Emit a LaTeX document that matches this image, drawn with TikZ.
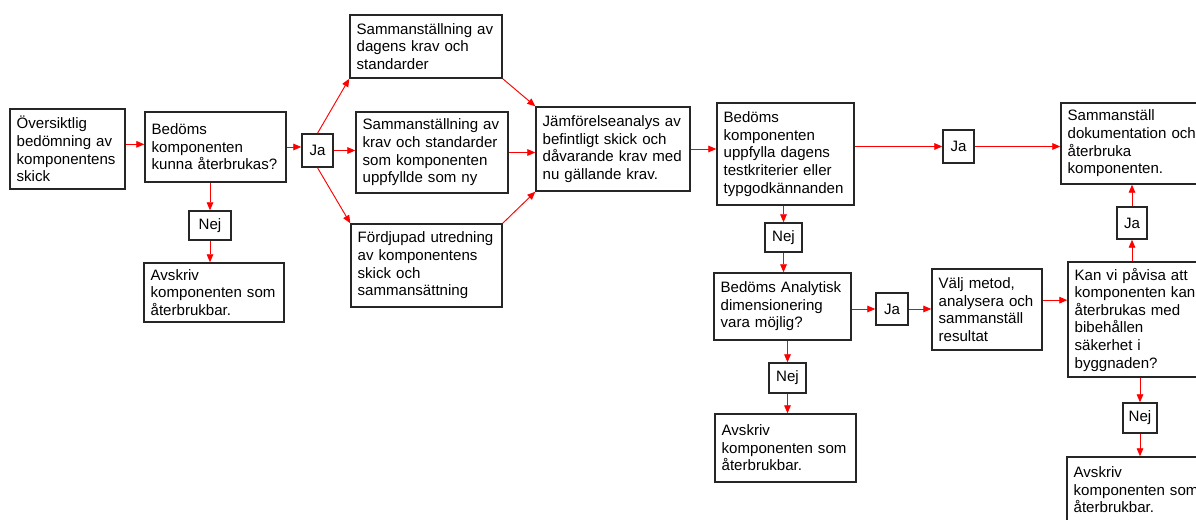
\documentclass[tikz,border=0pt]{standalone}
\usepackage{fontspec}
\setmainfont{Liberation Sans}
\usetikzlibrary{arrows.meta}
\tikzset{
 box/.style={draw=black!85, line width=1.1pt, align=left, inner xsep=5pt, inner ysep=2pt, font=\fontsize{11.3}{13.2}\selectfont},
 lab/.style={draw=black!85, line width=1.1pt, inner sep=0pt, font=\fontsize{11.3}{13.2}\selectfont},
 arr/.style={draw=red, line width=0.7pt, -{Triangle[length=6pt,width=5pt]}},
}
\newcommand\bx[6]{%
 \pgfmathsetmacro\bw{(#4-#2)*0.75}%
 \pgfmathsetmacro\bh{(#5-#3)*0.75}%
 \pgfmathsetmacro\tw{(#4-#2)*0.75-10}%
 \node[box, minimum width=\bw pt, minimum height=\bh pt, text width=\tw pt] (#1) at ({(#2+#4)/2},{(#3+#5)/2}) {#6};}
\newcommand\lb[6]{%
 \pgfmathsetmacro\bw{(#4-#2)*0.75}%
 \pgfmathsetmacro\bh{(#5-#3)*0.75}%
 \node[lab, minimum width=\bw pt, minimum height=\bh pt] (#1) at ({(#2+#4)/2},{(#3+#5)/2}) {#6};}
\begin{document}
\begin{tikzpicture}[x=0.75pt,y=-0.75pt]
\useasboundingbox (0,0) rectangle (1196,520);
\clip (0,0) rectangle (1196,520);
\fill[white] (0,0) rectangle (1196,520);
\bx{n1}{10}{109}{125}{189}{Översiktlig\\bedömning av\\komponentens\\skick}
\bx{n2}{145}{112}{286}{182}{Bedöms\\komponenten\\kunna återbrukas?}
\lb{ja1}{302}{134}{333}{167}{Ja}
\lb{nej1}{189}{211}{231}{240}{Nej}
\bx{av1}{144}{263}{284}{322}{Avskriv\\komponenten som\\återbrukbar.}
\bx{s1}{350}{15}{502}{78}{Sammanställning av\\dagens krav och\\standarder}
\bx{s2}{356}{112}{508}{193}{Sammanställning av\\krav och standarder\\som komponenten\\uppfyllde som ny}
\bx{s3}{351}{224}{502}{307}{Fördjupad utredning\\av komponentens\\skick och\\sammansättning}
\bx{jam}{536}{107}{690}{191}{Jämförelseanalys av\\befintligt skick och\\dåvarande krav med\\nu gällande krav.}
\bx{b2}{717}{103}{854}{205}{Bedöms\\komponenten\\uppfylla dagens\\testkriterier eller\\typgodkännanden}
\lb{ja2}{943}{130}{974}{163}{Ja}
\lb{nej2}{765}{223}{802}{252}{Nej}
\bx{ba}{714}{273}{851}{340}{Bedöms Analytisk\\dimensionering\\vara möjlig?}
\lb{ja3}{876}{293}{908}{325}{Ja}
\bx{vm}{932}{269}{1042}{350}{Välj metod,\\analysera och\\sammanställ\\resultat}
\lb{nej3}{769}{363}{806}{393}{Nej}
\bx{av2}{715}{414}{856}{482}{Avskriv\\komponenten som\\återbrukbar.}
\bx{sd}{1061}{103}{1215}{184}{Sammanställ\\dokumentation och\\återbruka\\komponenten.}
\lb{ja4}{1117}{207}{1147}{239}{Ja}
\bx{kan}{1068}{262}{1215}{377}{Kan vi påvisa att\\komponenten kan\\återbrukas med\\bibehållen\\säkerhet i\\byggnaden?}
\lb{nej4}{1123}{403}{1157}{433}{Nej}
\bx{av3}{1067}{457}{1215}{523}{Avskriv\\komponenten som\\återbrukbar.}
% connectors
\draw[arr] ([yshift=2pt]n1.east |- n2.west) -- ([yshift=2pt]n2.west);
\draw[arr] (n2.east) -- (n2.east -| ja1.west);
\draw[arr] (nej1.north |- n2.south) -- (nej1.north);
\draw[arr] (nej1.south) -- (nej1.south |- av1.north);
\draw[arr] (ja1.north) -- (s1.south west);
\draw[arr] (ja1.east) -- (ja1.east -| s2.west);
\draw[arr] (ja1.south) -- (s3.north west);
\draw[arr] (s1.south east) -- (jam.north west);
\draw[arr] (s2.east) -- (s2.east -| jam.west);
\draw[arr] (s3.north east) -- (jam.south west);
\draw[arr] (jam.east) -- (jam.east -| b2.west);
\draw[arr] (ja2.west -| b2.east) -- (ja2.west);
\draw[arr] (ja2.east) -- (ja2.east -| sd.west);
\draw[arr] (nej2.north |- b2.south) -- (nej2.north);
\draw[arr] (nej2.south) -- (nej2.south |- ba.north);
\draw[arr] (ja3.west -| ba.east) -- (ja3.west);
\draw[arr] (ja3.east) -- (ja3.east -| vm.west);
\draw[arr] (nej3.north |- ba.south) -- (nej3.north);
\draw[arr] (nej3.south) -- (nej3.south |- av2.north);
\draw[arr] ([yshift=7pt]vm.east) -- ([yshift=7pt]vm.east -| kan.west);
\draw[arr] (ja4.south |- kan.north) -- (ja4.south);
\draw[arr] (ja4.north) -- (ja4.north |- sd.south);
\draw[arr] (nej4.north |- kan.south) -- (nej4.north);
\draw[arr] (nej4.south) -- (nej4.south |- av3.north);
\end{tikzpicture}
\end{document}
